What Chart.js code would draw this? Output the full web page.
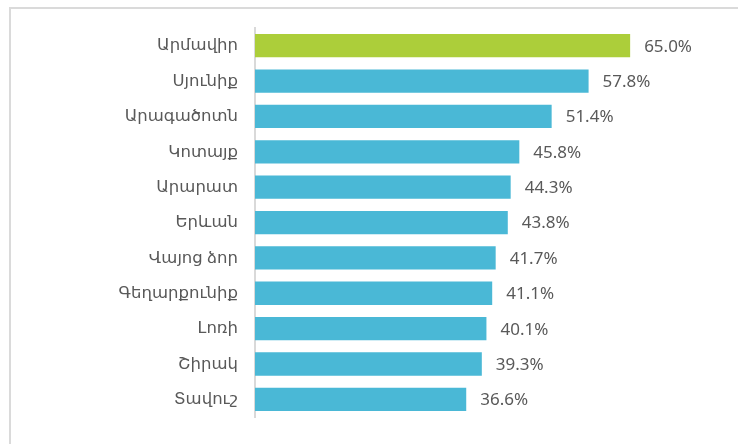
<!DOCTYPE html>
<html>
<head>
<meta charset="utf-8">
<script src="https://cdn.jsdelivr.net/npm/chart.js@4"></script>
<style>
  html, body { margin: 0; padding: 0; background: #fff; overflow: hidden; width: 738px; height: 444px; }
  #frame { position: absolute; left: 9px; top: 7px; width: 729px; height: 437px; border-left: 2px solid #dadada; border-top: 2px solid #dadada; box-sizing: border-box; }
  #wrap { position: absolute; left: 0; top: 0; width: 738px; height: 444px; }
</style>
</head>
<body>
<div id="frame"></div>
<div id="wrap"><canvas id="chart"></canvas></div>
<script>
const regions = ['Արմավիր', 'Սյունիք', 'Արագածոտն', 'Կոտայք', 'Արարատ', 'Երևան', 'Վայոց ձոր', 'Գեղարքունիք', 'Լոռի', 'Շիրակ', 'Տավուշ'];
const shares = [65.0, 57.8, 51.4, 45.8, 44.3, 43.8, 41.7, 41.1, 40.1, 39.3, 36.6];
const barColors = regions.map((r, i) => i === 0 ? '#acce3a' : '#4ab8d6');

const fontFamily = '"Noto Sans", "DejaVu Sans", sans-serif';

// draws the percent labels at the end of each bar
const valueLabels = {
    id: 'valueLabels',
    afterDatasetsDraw(chart) {
        const ctx = chart.ctx;
        const meta = chart.getDatasetMeta(0);
        ctx.save();
        ctx.font = '17px ' + fontFamily;
        ctx.fillStyle = '#595959';
        ctx.textAlign = 'left';
        ctx.textBaseline = 'middle';
        meta.data.forEach((bar, i) => {
            ctx.fillText(shares[i].toFixed(1) + '%', bar.x + 14, bar.y + 1);
        });
        ctx.restore();
    }
};

const ctx = document.getElementById('chart').getContext('2d');
new Chart(ctx, {
    type: 'bar',
    data: {
        labels: regions,
        datasets: [{
            data: shares,
            backgroundColor: barColors,
            barPercentage: 0.66,
            categoryPercentage: 1.0
        }]
    },
    options: {
        indexAxis: 'y',
        responsive: true,
        maintainAspectRatio: false,
        animation: false,
        layout: { padding: { left: 0, right: 79, top: 28, bottom: 15 } },
        plugins: {
            legend: { display: false },
            tooltip: { enabled: false }
        },
        scales: {
            x: {
                display: false,
                min: 0,
                max: 70
            },
            y: {
                grid: { display: false, drawTicks: false },
                border: { display: true, color: '#d9d9d9', width: 2 },
                ticks: {
                    color: '#595959',
                    padding: 17,
                    font: { family: fontFamily, size: 16.5 }
                },
                afterFit(scale) { scale.width = 255; }
            }
        }
    },
    plugins: [valueLabels]
});
</script>
</body>
</html>
